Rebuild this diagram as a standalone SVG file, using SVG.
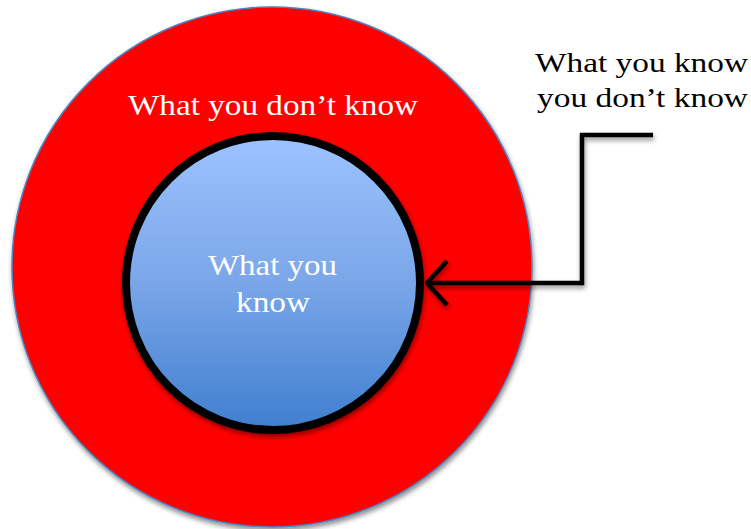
<svg xmlns="http://www.w3.org/2000/svg" width="751" height="529" viewBox="0 0 751 529">
  <defs>
    <linearGradient id="blueGrad" x1="0" y1="0" x2="0" y2="1">
      <stop offset="0" stop-color="#9dc3ff"/>
      <stop offset="0.5" stop-color="#7aa6e8"/>
      <stop offset="1" stop-color="#3f7fcf"/>
    </linearGradient>
    <filter id="shadow" x="-10%" y="-10%" width="130%" height="130%">
      <feGaussianBlur in="SourceAlpha" stdDeviation="2.5"/>
      <feOffset dx="1" dy="3" result="b"/>
      <feComponentTransfer><feFuncA type="linear" slope="0.45"/></feComponentTransfer>
      <feMerge><feMergeNode/><feMergeNode in="SourceGraphic"/></feMerge>
    </filter>
    <marker id="openArrow" viewBox="0 0 24 48" refX="22" refY="24" markerWidth="24" markerHeight="48" markerUnits="userSpaceOnUse" orient="auto">
      <path d="M2 2 L22 24 L2 46" fill="none" stroke="#000" stroke-width="4.5" stroke-linecap="butt" stroke-linejoin="miter"/>
    </marker>
    <style>
      .lbl { font-family: "Liberation Serif", "Times New Roman", serif; }
      .white { fill: #ffffff; }
      .black { fill: #000000; }
    </style>
  </defs>

  <g id="outer">
    <circle cx="272" cy="267" r="260" fill="#ff0000" stroke="#4f81bd" stroke-width="1.5" filter="url(#shadow)"/>
    <text class="lbl white" x="273" y="115" font-size="30" text-anchor="middle" textLength="290" lengthAdjust="spacingAndGlyphs">What you don’t know</text>
  </g>

  <g id="inner">
    <circle cx="273" cy="283" r="147" fill="url(#blueGrad)" stroke="#000" stroke-width="8" filter="url(#shadow)"/>
    <text class="lbl white" x="272.5" y="275" font-size="30" text-anchor="middle" textLength="129" lengthAdjust="spacingAndGlyphs">What you</text>
    <text class="lbl white" x="273" y="312" font-size="30" text-anchor="middle" textLength="74" lengthAdjust="spacingAndGlyphs">know</text>
  </g>

  <g id="label-right">
    <text class="lbl black" x="535" y="72" font-size="27" textLength="213" lengthAdjust="spacingAndGlyphs">What you know</text>
    <text class="lbl black" x="537" y="107" font-size="27" textLength="211" lengthAdjust="spacingAndGlyphs">you don’t know</text>
  </g>

  <g id="connectors" filter="url(#shadow)">
    <polyline points="653,135 582,135 582,283 427,283" fill="none" stroke="#000" stroke-width="4.5" stroke-linejoin="miter" marker-end="url(#openArrow)"/>
  </g>
</svg>
